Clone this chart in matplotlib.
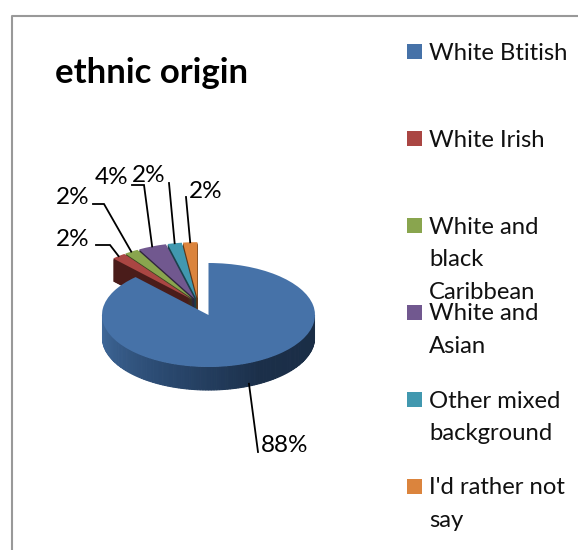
import numpy as np
import matplotlib
matplotlib.use("Agg")
import matplotlib.pyplot as plt
from matplotlib.patches import Rectangle
from matplotlib.lines import Line2D

W = 578
H = 550

labels = ["White Btitish", "White Irish", "White and\nblack\nCaribbean",
          "White and\nAsian", "Other mixed\nbackground", "I'd rather not\nsay"]
values = [88, 2, 2, 4, 2, 2]
pct_labels = ["88%", "2%", "2%", "4%", "2%", "2%"]
colors = ["#4672a8", "#aa4643", "#89a54e", "#71588f", "#4198af", "#db843d"]
dark_colors = ["#1b2f49", "#4a1c1a", "#3a4721", "#30253d", "#1b414c", "#5e3819"]

plt.rcParams["font.family"] = ["Lato", "DejaVu Sans"]

# pie centre and radii on the picture, pixels
CX, CY = 208.5, 315
RX, RY = 106.5, 52
DEPTH = 23 / RY


def px(x, y):
    # picture pixels -> pie units
    return (x - CX) / RX, (CY - y) / RY


fig = plt.figure(figsize=(W / 100, H / 100), dpi=100)
ax = fig.add_axes([0, 0, 1, 1])

# the small slices sit in their own fan, up and left of the big one
fan_center = px(198, 303)
fan_radius = 1.08
small_explode = [0, 0.09, 0.09, 0.09, 0.09, 0.09]

# sides of the small slices first, then their tops
for d in np.linspace(DEPTH, 0.02, 60):
    w, _ = ax.pie(values, colors=dark_colors, startangle=90, counterclock=False,
                  center=(fan_center[0], fan_center[1] - d), radius=fan_radius,
                  explode=small_explode, frame=True)
    w[0].set_visible(False)
fan, _ = ax.pie(values, colors=colors, startangle=90, counterclock=False,
                center=fan_center, radius=fan_radius, explode=small_explode, frame=True)
fan[0].set_visible(False)

# rim of the big slice, shaded from left to right
rim_stops = np.array([[0x42, 0x6c, 0x9e], [0x2c, 0x4c, 0x74], [0x1b, 0x2f, 0x49], [0x1a, 0x2d, 0x45]]) / 255
angles = np.linspace(np.pi, 2 * np.pi, 121)
for i in range(len(angles) - 1):
    t = np.linspace(angles[i], angles[i + 1], 4)
    xs = np.cos(t) * 0.995
    ys = np.sin(t)
    f = i / (len(angles) - 2) * (len(rim_stops) - 1)
    k = min(int(f), len(rim_stops) - 2)
    c = rim_stops[k] + (rim_stops[k + 1] - rim_stops[k]) * (f - k)
    ax.fill(np.r_[xs, xs[::-1]], np.r_[ys, ys[::-1] - DEPTH], facecolor=c, edgecolor=c,
            lw=0.8, zorder=3)

main, _ = ax.pie(values, colors=colors, startangle=90, counterclock=False, frame=True)
for w in main[1:]:
    w.set_visible(False)
main[0].set_zorder(4)

ax.set_aspect("auto")
ax.set_xlim(px(0, 0)[0], px(W, 0)[0])
ax.set_ylim(px(0, H)[1], px(0, 0)[1])
ax.set_xticks([])
ax.set_yticks([])
ax.axis("off")

# data labels and leader lines, ends taken from the wedges
label_pos = [(285, 446), (73, 240), (73, 198), (112, 178), (149, 175), (206, 192)]
elbows = [[(258, 452)], [(96, 245), (110, 245)], [(93, 204), (104, 204)],
          [(132, 185), (144, 185)], [(169, 183)], [(186, 197)]]
for i, w in enumerate(fan):
    mid = np.deg2rad((w.theta1 + w.theta2) / 2)
    if i == 0:
        end = (0.38, -0.88 - DEPTH)
    else:
        end = (w.center[0] + w.r * np.cos(mid), w.center[1] + w.r * np.sin(mid))
    pts = [px(*p) for p in elbows[i]] + [end]
    ax.plot([p[0] for p in pts], [p[1] for p in pts], color="black", lw=1.3,
            solid_joinstyle="miter", zorder=5)
    x, y = px(*label_pos[i])
    ax.text(x, y, pct_labels[i], fontsize=17.5, color="black", ha="center", va="center", zorder=6)

# title
fig.text(55 / W, 1 - 73 / H, "ethnic origin", fontsize=25, fontweight="bold",
         color="black", ha="left", va="center")

# legend, regular steps but long entries run into the next one
for i, lab in enumerate(labels):
    yc = 51 + i * 87
    fig.add_artist(Rectangle((407 / W, 1 - (yc + 7.5) / H), 15 / W, 15 / H, color=colors[i],
                             lw=0, transform=fig.transFigure))
    for j, line in enumerate(lab.split("\n")):
        fig.text(429 / W, 1 - (yc + j * 32.7) / H, line, fontsize=17.2, color="#111111",
                 ha="left", va="center_baseline")

# chart border, cut off by the picture on the right and at the bottom
fig.add_artist(Line2D([11.5 / W, 11.5 / W, 1], [0, 1 - 15.5 / H, 1 - 15.5 / H], color="#999999",
                      lw=1.5, transform=fig.transFigure))

fig.savefig("out.png", dpi=100)
